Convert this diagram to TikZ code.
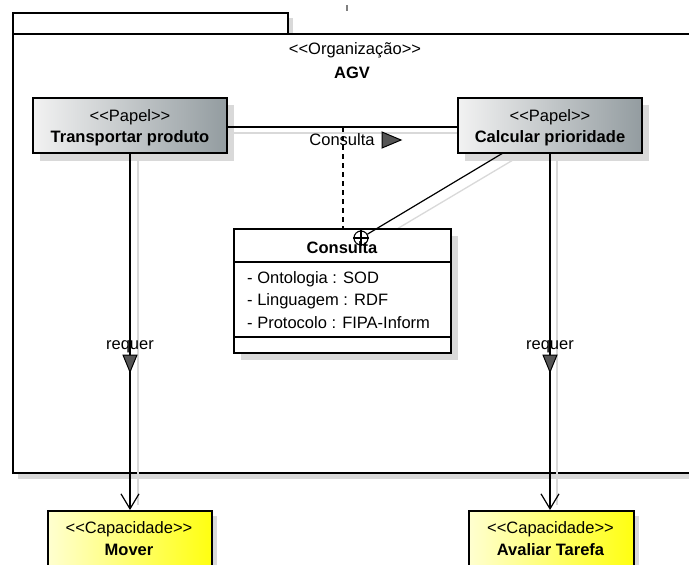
\documentclass[tikz,border=0pt]{standalone}
\usepackage{fontspec}
\setmainfont{Liberation Sans}
\usetikzlibrary{arrows.meta,calc}
\definecolor{shadowgray}{HTML}{D9D9D9}
\definecolor{papelL}{HTML}{F2F2F2}
\definecolor{papelR}{HTML}{939CA0}
\definecolor{capL}{HTML}{FFFFD0}
\definecolor{capR}{HTML}{FFFF10}
\definecolor{tri}{HTML}{555555}
\newcommand{\lt}{<\kern0pt<}
\newcommand{\gt}{>\kern0pt>}
\tikzset{
  txt/.style={font=\fontsize{16.5}{19}\selectfont, inner sep=0pt},
  btxt/.style={font=\bfseries\fontsize{16.5}{19}\selectfont, inner sep=0pt},
  shadline/.style={draw=shadowgray, line width=1.3pt},
  papelbox/.style={draw, line width=2.3pt, left color=papelL, right color=papelR, inner sep=0pt},
  capbox/.style={draw, line width=2.3pt, left color=capL, right color=capR, inner sep=0pt},
  conn/.style={draw, line width=1.2pt},
  req/.style={conn, -{Straight Barb[length=15pt,width=18pt,line width=1.2pt]}},
}
\begin{document}
\begin{tikzpicture}[x=1pt,y=-1pt]
\useasboundingbox (0,0) rectangle (689,565);
\clip (0,0) rectangle (689,565);
% tick
\draw[gray, line width=2pt] (347,5) -- (347,11);
% package shadow
\fill[shadowgray] (18,39) rectangle (730,479);
\fill[shadowgray] (287,18) rectangle (293,33);
\fill[white] (12,33) rectangle (720,472);
% package
\node[draw, line width=2.3pt, minimum width=275pt, minimum height=21pt, inner sep=0pt, anchor=north west] (tab) at (12,12) {};
\node[draw, line width=2.3pt, fill=white, minimum width=708pt, minimum height=439pt, inner sep=0pt, anchor=north west] (pkg) at (12,33) {};
\node[txt] (orgst) at (355,50) {\lt Organização\gt};
\node[btxt] (orgname) at (352,73) {AGV};

% shadows of boxes
\fill[shadowgray] (40,105) rectangle (234,161);
\fill[shadowgray] (465,105) rectangle (649,161);
\fill[shadowgray] (241,236) rectangle (458,360);
\fill[shadowgray] (53,516) rectangle (217,580);
\fill[shadowgray] (474,516) rectangle (639,580);

% shadow connector lines
\draw[shadline] (227,133) -- (458,133);
\draw[shadline] (138,160) -- (138,505);
\draw[shadline] (557,160) -- (557,505);
\draw[shadline] (513,160) -- (370,245);

% papel boxes
\node[papelbox, minimum width=194pt, minimum height=55pt] (p1) at (130,125.5) {};
\node[txt] (p1st) at (130,117) {\lt Papel\gt};
\node[btxt] (p1n) at (130,138) {Transportar produto};
\node[papelbox, minimum width=184pt, minimum height=55pt] (p2) at (550,125.5) {};
\node[txt] (p2st) at (550,117) {\lt Papel\gt};
\node[btxt] (p2n) at (550,138) {Calcular prioridade};

% association
\draw[conn] (p1.east |- 0,127) -- (p2.west |- 0,127);
\coordinate (amid) at (343,127);
\node[txt] (alabel) at (342,140) {Consulta};
\draw[fill=tri, line width=1pt] (382,132) -- (401,140) -- (382,148) -- cycle;

% class box
\node[draw, line width=2.3pt, fill=white, minimum width=217pt, minimum height=124pt, inner sep=0pt, anchor=north west] (cls) at (233,228) {};
\draw[line width=1.5pt] (cls.west |- 0,262) -- (cls.east |- 0,262);
\draw[line width=1.5pt] (cls.west |- 0,337) -- (cls.east |- 0,337);
\node[btxt] (clsname) at (342,248) {Consulta};
\node[txt, anchor=west] (a1) at (247,279) {- Ontologia : SOD};
\node[txt, anchor=west] (a2) at (247,301) {- Linguagem : RDF};
\node[txt, anchor=west] (a3) at (247,323) {- Protocolo : FIPA-Inform};

% dashed link
\draw[line width=1.2pt, dash pattern=on 5pt off 4pt] (amid) -- (amid |- cls.north);

% nesting connector
\node[circle, draw, line width=1.1pt, minimum size=14pt, inner sep=0pt] (nest) at (361,238) {};
\draw[line width=1.1pt] (nest.north) -- (nest.south) (nest.west) -- (nest.east);
\coordinate (p2c) at (503,153);
\draw[conn] (p2c) -- (nest);

% capability boxes
\node[capbox, minimum width=164pt, minimum height=65pt, anchor=north west] (mover) at (47,510) {};
\node[txt] (mst) at (129,529) {\lt Capacidade\gt};
\node[btxt] (mn) at (129,550) {Mover};
\node[capbox, minimum width=165pt, minimum height=65pt, anchor=north west] (aval) at (468,510) {};
\node[txt] (ast) at (550.5,529) {\lt Capacidade\gt};
\node[btxt] (an) at (550.5,550) {Avaliar Tarefa};

% requer connectors
\draw[req] (p1.south) -- (p1.south |- mover.north);
\draw[req] (p2.south) -- (p2.south |- aval.north);
\node[txt] (r1) at (130,347) {requer};
\node[txt] (r2) at (550,347) {requer};
\draw[fill=tri, line width=1pt] (123,355) -- (137,355) -- (130,372) -- cycle;
\draw[fill=tri, line width=1pt] (543,355) -- (557,355) -- (550,372) -- cycle;
\end{tikzpicture}
\end{document}
